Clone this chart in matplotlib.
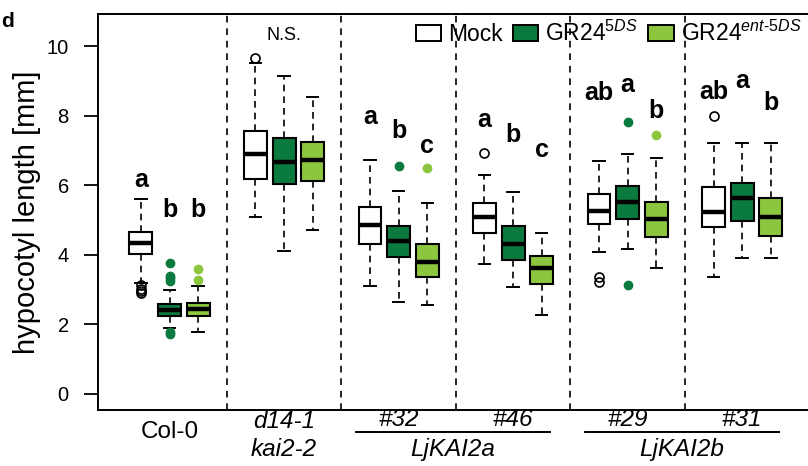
import matplotlib
matplotlib.use("Agg")
import matplotlib.pyplot as plt
from matplotlib.patches import Patch

plt.rcParams["font.family"] = ["Liberation Sans", "DejaVu Sans"]
plt.rcParams["mathtext.fontset"] = "custom"
plt.rcParams["mathtext.rm"] = "Liberation Sans"
plt.rcParams["mathtext.it"] = "Liberation Sans:italic"

# genotype groups and treatments
groups = ["Col-0", "d14-1\nkai2-2", "#32", "#46", "#29", "#31"]
treatments = ["Mock", "GR24$^{\\mathit{5DS}}$", "GR24$^{\\mathit{ent\u2010 5DS}}$"]
colors = ["white", "#0b7a3e", "#8cc63f"]

# box statistics, order: group x (Mock, 5DS, ent-5DS)
whislo = [3.18, 1.89, 1.77,  5.08, 4.12, 4.71,  3.10, 2.65, 2.55,
          3.73, 3.07, 2.27,  4.07, 4.17, 3.61,  3.35, 3.90, 3.92]
q1 = [4.02, 2.24, 2.24,  6.18, 6.03, 6.12,  4.32, 3.95, 3.35,
      4.63, 3.85, 3.15,  4.89, 5.03, 4.52,  4.79, 4.98, 4.54]
med = [4.33, 2.41, 2.45,  6.90, 6.68, 6.72,  4.86, 4.40, 3.80,
       5.10, 4.30, 3.61,  5.27, 5.53, 5.03,  5.24, 5.62, 5.09]
q3 = [4.66, 2.59, 2.62,  7.56, 7.35, 7.25,  5.36, 4.84, 4.31,
      5.48, 4.84, 3.97,  5.75, 5.99, 5.53,  5.94, 6.05, 5.62]
whishi = [5.60, 2.99, 3.10,  9.50, 9.14, 8.54,  6.72, 5.83, 5.48,
          6.29, 5.81, 4.64,  6.70, 6.89, 6.77,  7.20, 7.20, 7.20]
fliers = [[3.12, 3.03, 2.96, 2.89], [3.76, 3.40, 3.33, 3.24, 1.79, 1.72], [3.27, 3.60],
          [9.65], [], [],
          [], [6.56], [6.49],
          [6.92], [], [],
          [3.35, 3.23], [7.83, 3.13], [7.44],
          [7.99], [], []]

# significance letters (per box) and their baseline heights
letters = ["a", "b", "b",  "", "", "",  "a", "b", "c",
           "a", "b", "c",  "ab", "a", "b",  "ab", "a", "b"]
letter_y = [5.95, 5.08, 5.08,  0, 0, 0,  7.76, 7.35, 6.92,
            7.68, 7.25, 6.82,  8.45, 8.69, 7.92,  8.47, 8.78, 8.16]

fig = plt.figure(figsize=(8.08, 4.66), dpi=100)
ax = fig.add_axes([98 / 808, 56 / 466, 710 / 808, 396 / 466])

positions = []
for g in range(len(groups)):
    for t in range(3):
        positions.append(4 * g + t + 1)

for i, x in enumerate(positions):
    t = i % 3
    stats = [dict(med=med[i], q1=q1[i], q3=q3[i], whislo=whislo[i],
                  whishi=whishi[i], fliers=fliers[i])]
    if t == 0:
        fp = dict(marker="o", markerfacecolor="none", markeredgecolor="black",
                  markersize=6.5, markeredgewidth=1.2)
    else:
        fp = dict(marker="o", markerfacecolor=colors[t], markeredgecolor=colors[t],
                  markersize=6)
    ax.bxp(stats, positions=[x], widths=0.8, patch_artist=True,
           boxprops=dict(facecolor=colors[t], edgecolor="black", linewidth=1.5),
           medianprops=dict(color="black", linewidth=3.2, solid_capstyle="butt"),
           whiskerprops=dict(color="black", linewidth=1.2, linestyle=(0, (4, 3))),
           capprops=dict(color="black", linewidth=1.4),
           flierprops=fp, capwidths=0.4, manage_ticks=False)
    if letters[i]:
        ax.text(x, letter_y[i], letters[i], ha="center", va="baseline",
                fontsize=18, fontweight="bold")

ax.text(6, 10.17, "N.S.", ha="center", va="baseline", fontsize=13)

# group separators
for g in range(1, len(groups)):
    ax.axvline(4 * g, color="black", linewidth=1.2, linestyle=(0, (4, 3.5)))

ax.set_xlim(-0.5, 24.3)
ax.set_ylim(-0.46, 10.92)
ax.set_yticks([0, 2, 4, 6, 8, 10])
ax.set_xticks([])
ax.tick_params(axis="y", labelsize=14.5, length=10, width=1.3, pad=11)
ax.set_ylabel("hypocotyl length [mm]", fontsize=21, labelpad=4)
for s in ["left", "top", "bottom"]:
    ax.spines[s].set_linewidth(1.4)
ax.spines["right"].set_visible(False)

# x-axis group labels
trans = ax.get_xaxis_transform()
ax.text(2, -0.056, "Col-0", transform=trans, ha="center", va="center", fontsize=17.5)
ax.text(6, -0.03, "d14-1", transform=trans, ha="center", va="center",
        fontsize=17.5, style="italic")
ax.text(6, -0.1, "kai2-2", transform=trans, ha="center", va="center",
        fontsize=17.5, style="italic")
for g in range(2, len(groups)):
    ax.text(4 * g + 2, -0.025, groups[g], transform=trans, ha="center",
            va="center", fontsize=17.5, style="italic")
for x0, x1, name in [(8.5, 15.3, "LjKAI2a"), (16.5, 23.3, "LjKAI2b")]:
    ax.plot([x0, x1], [-0.056, -0.056], transform=trans, color="black",
            linewidth=1.4, clip_on=False)
    ax.text((x0 + x1) / 2, -0.1, name, transform=trans, ha="center",
            va="center", fontsize=17.5, style="italic")

handles = [Patch(facecolor=c, edgecolor="black", linewidth=1.4) for c in colors]
ax.legend(handles, treatments, loc="upper right", bbox_to_anchor=(1.0, 1.0),
          ncol=3, frameon=False, fontsize=16.5, handlelength=1.1,
          handleheight=0.65, handletextpad=0.3, columnspacing=0.45,
          borderaxespad=0.1, borderpad=0.2)

fig.text(0.002, 0.942, "d", fontsize=15, fontweight="bold", ha="left", va="baseline")

fig.savefig("out.png", dpi=100)
